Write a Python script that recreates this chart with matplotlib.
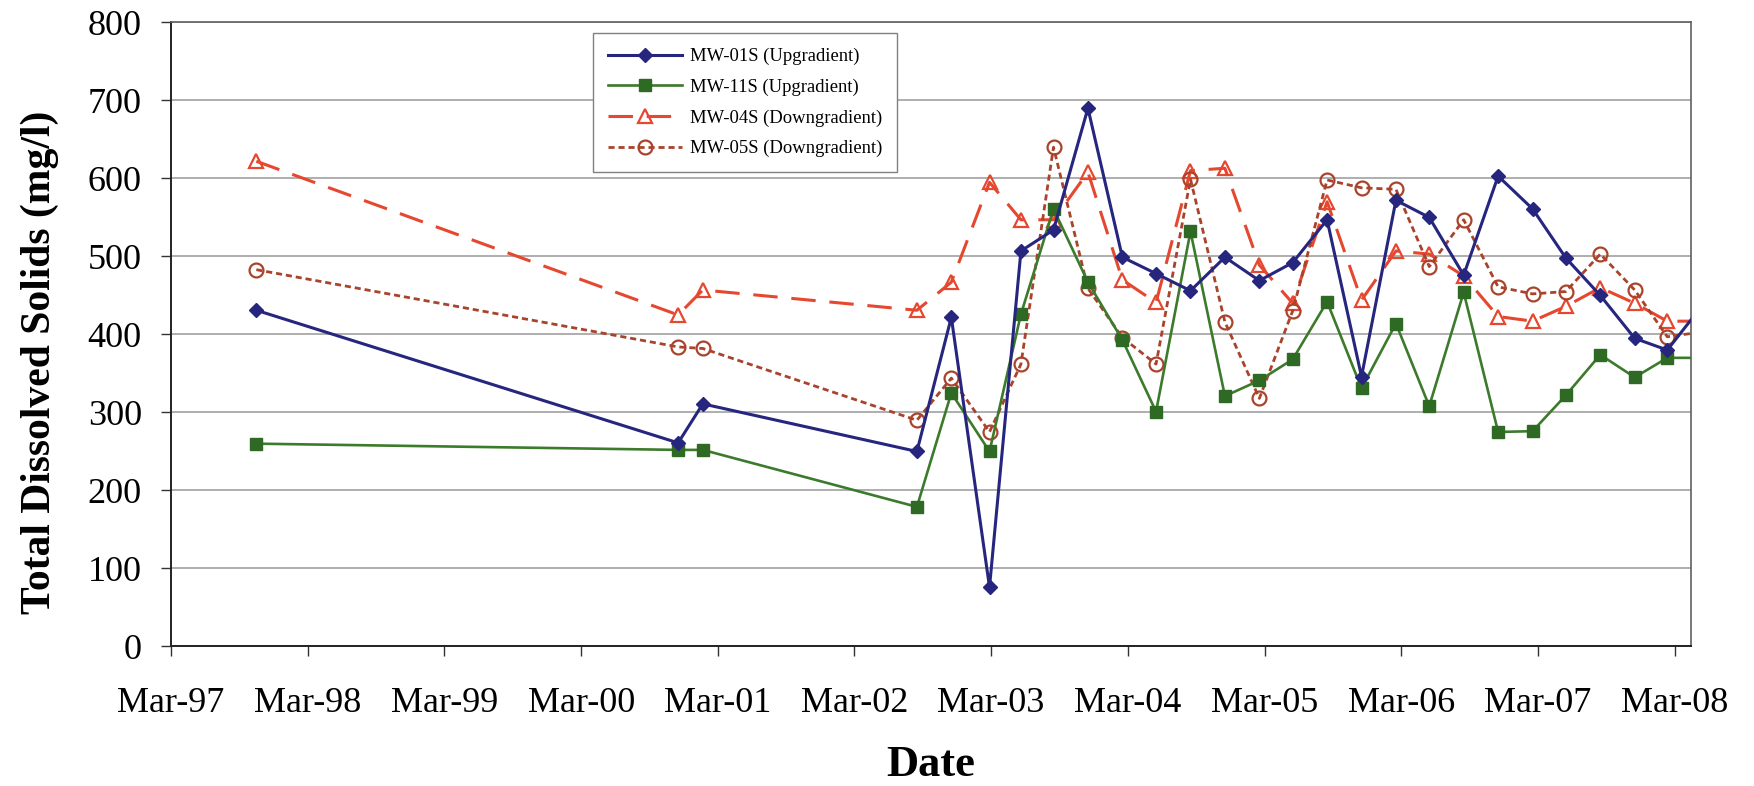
import matplotlib
matplotlib.use("Agg")
import matplotlib.pyplot as plt
import matplotlib.dates as mdates
from matplotlib.ticker import MultipleLocator
import numpy as np
from datetime import datetime

plt.rcParams['font.family'] = ['Liberation Serif', 'DejaVu Serif']

dates = ["1997-10-15", "2000-11-15", "2001-01-20", "2002-08-15", "2002-11-15",
         "2003-02-25", "2003-05-20", "2003-08-15", "2003-11-15", "2004-02-15",
         "2004-05-15", "2004-08-15", "2004-11-15", "2005-02-15", "2005-05-15",
         "2005-08-15", "2005-11-15", "2006-02-15", "2006-05-15", "2006-08-15",
         "2006-11-15", "2007-02-15", "2007-05-15", "2007-08-15", "2007-11-15",
         "2008-02-10", "2008-05-10"]

mw01s = [431, 261, 311, 250, 422, 76, 507, 534, 690, 499, 478, 456, 499, 469, 492,
         547, 346, 572, 550, 476, 603, 561, 498, 450, 395, 380, 435]
mw11s = [260, 252, 252, 179, 325, 250, 426, 561, 467, 393, 301, 532, 321, 341, 368,
         442, 331, 414, 308, 454, 275, 276, 322, 374, 345, 370, 370]
mw04s = [622, 425, 457, 431, 467, 595, 547, 547, 608, 470, 441, 610, 613, 489, 440,
         570, 444, 507, 503, 475, 423, 417, 436, 460, 440, 417, 417]
mw05s = [483, 384, 382, 290, 344, 275, 362, 640, 459, 396, 362, 599, 416, 318, 430,
         598, 588, 586, 487, 547, 461, 452, 455, 503, 457, 397, 403]

labels = ["MW-01S (Upgradient)", "MW-11S (Upgradient)",
          "MW-04S (Downgradient)", "MW-05S (Downgradient)"]

x = [datetime.strptime(d, "%Y-%m-%d") for d in dates]

fig = plt.figure(figsize=(17.54, 7.86), dpi=100)
ax = fig.add_axes([0.0975, 0.1775, 0.8665, 0.794])

ax.plot(x, mw01s, color="#26267f", lw=2.2, marker="D", ms=7,
        mfc="#26267f", mec="#26267f", label=labels[0], zorder=4)
ax.plot(x, mw11s, color="#3c7a2c", lw=1.9, marker="s", ms=9,
        mfc="#2f6a25", mec="#2f6a25", label=labels[1], zorder=3)
ax.plot(x, mw04s, color="#e5472f", lw=2.2, ls=(0, (8, 4.5)), marker="^", ms=10,
        mfc="none", mec="#e5472f", mew=1.6, label=labels[2], zorder=2)
ax.plot(x, mw05s, color="#a9432c", lw=2.0, ls=(0, (2.2, 1.4)), marker="o", ms=10,
        mfc="none", mec="#a9432c", mew=1.6, label=labels[3], zorder=2)

ax.set_xlim(datetime(1997, 3, 1), datetime(2008, 4, 13))
ax.set_ylim(0, 800)
ax.yaxis.set_major_locator(MultipleLocator(100))
ax.xaxis.set_major_locator(mdates.MonthLocator(bymonth=[3], bymonthday=1))
ax.xaxis.set_major_formatter(mdates.DateFormatter("%b-%y"))

ax.grid(axis="y", color="#a8a8a8", lw=1.3)
ax.set_axisbelow(True)

for s in ["top", "right"]:
    ax.spines[s].set_color("#606060")
    ax.spines[s].set_linewidth(1.2)
for s in ["left", "bottom"]:
    ax.spines[s].set_color("#222222")
    ax.spines[s].set_linewidth(1.4)

ax.tick_params(axis="both", direction="out", length=7, width=1.0, color="#333333",
               labelsize=26, pad=14)
ax.tick_params(axis="x", pad=22)

ax.set_ylabel("Total Dissolved Solids (mg/l)", fontsize=30, fontweight="bold")
ax.yaxis.set_label_coords(-0.074, 0.455)
ax.set_xlabel("Date", fontsize=32, fontweight="bold", labelpad=18)

leg = ax.legend(loc="upper left", bbox_to_anchor=(0.2776, 0.983), fontsize=13.4,
                frameon=True, fancybox=False, edgecolor="#808080", framealpha=1,
                handlelength=4.0, labelspacing=0.72, borderpad=0.8,
                handletextpad=0.4, borderaxespad=0)
leg.get_frame().set_linewidth(1.0)

fig.savefig("out.png", dpi=100, facecolor="white")
